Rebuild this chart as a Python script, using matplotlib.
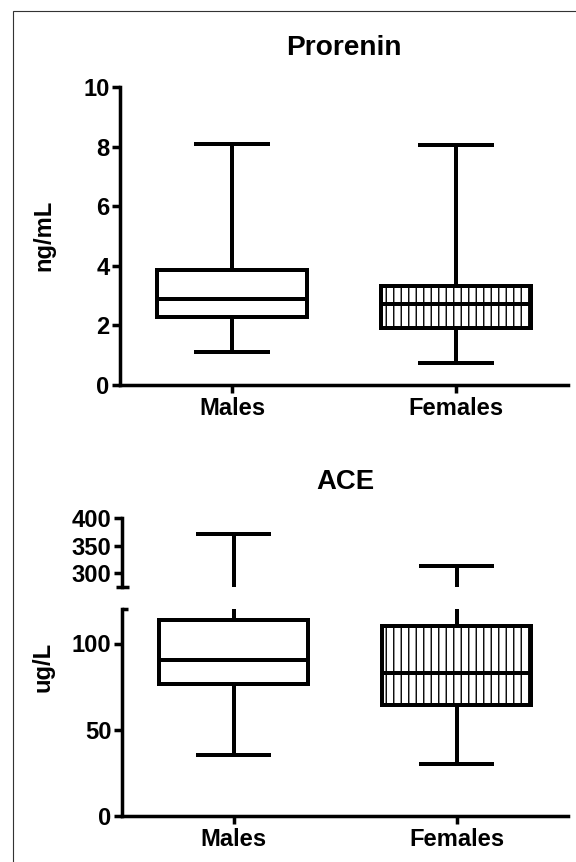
import matplotlib.pyplot as plt
from matplotlib.patches import Rectangle
from matplotlib.ticker import FixedLocator

plt.rcParams['font.family'] = ['Liberation Sans', 'DejaVu Sans']
plt.rcParams['font.weight'] = 'bold'
plt.rcParams['hatch.linewidth'] = 1.1

groups = ['Males', 'Females']
hatches = ['', '||']

# Prorenin (ng/mL): whisker low, Q1, median, Q3, whisker high
prorenin_whislo = [1.12, 0.73]
prorenin_q1 = [2.29, 1.90]
prorenin_med = [2.90, 2.71]
prorenin_q3 = [3.86, 3.32]
prorenin_whishi = [8.09, 8.04]

# ACE (ug/L)
ace_whislo = [35.5, 30.0]
ace_q1 = [76.7, 64.5]
ace_med = [90.7, 83.0]
ace_q3 = [113.5, 110.0]
ace_whishi = [371.0, 313.0]

prorenin_ticks = [0, 2, 4, 6, 8, 10]
ace_low_ticks = [0, 50, 100]
ace_high_ticks = [300, 350, 400]
ace_low_lim = (0, 120)
ace_high_lim = (275, 400)

LW = 3.2      # boxes, whiskers
LW_AX = 2.8   # spines, ticks
FS = 19
W, H = 576, 862


def make_stats(lo, q1, med, q3, hi):
    return [dict(whislo=a, q1=b, med=c, q3=d, whishi=e, fliers=[])
            for a, b, c, d, e in zip(lo, q1, med, q3, hi)]


def draw_boxes(ax, stats):
    res = ax.bxp(stats, positions=[1, 2], widths=0.67, patch_artist=True,
                 showfliers=False, manage_ticks=False,
                 boxprops=dict(facecolor='white', edgecolor='black', linewidth=LW),
                 whiskerprops=dict(color='black', linewidth=LW, solid_capstyle='butt'),
                 capprops=dict(color='black', linewidth=LW, solid_capstyle='butt'),
                 medianprops=dict(color='black', linewidth=LW, solid_capstyle='butt'))
    for box, h in zip(res['boxes'], hatches):
        box.set_hatch(h)
    ax.set_xlim(0.5, 2.5)


def style(ax, bottom=True):
    for s in ['top', 'right']:
        ax.spines[s].set_visible(False)
    ax.spines['left'].set_linewidth(LW_AX)
    ax.spines['bottom'].set_linewidth(LW_AX)
    ax.tick_params(axis='both', which='major', direction='out', length=6.4,
                   width=LW_AX, labelsize=FS, pad=2)
    if bottom:
        ax.set_xticks([1, 2])
        ax.set_xticklabels(groups, fontsize=FS, fontweight='bold')
        ax.tick_params(axis='x', pad=3)
    else:
        ax.spines['bottom'].set_visible(False)
        ax.set_xticks([])


def fx(px):
    return px / W


def fy(py):
    return 1 - py / H


fig = plt.figure(figsize=(W / 90, H / 90), dpi=90)

# Prorenin
ax1 = fig.add_axes([fx(120), fy(385), fx(568 - 120), (385 - 87) / H])
draw_boxes(ax1, make_stats(prorenin_whislo, prorenin_q1, prorenin_med,
                           prorenin_q3, prorenin_whishi))
ax1.set_ylim(0, 10)
ax1.set_yticks(prorenin_ticks)
style(ax1)

# ACE, broken axis
ace_stats = make_stats(ace_whislo, ace_q1, ace_med, ace_q3, ace_whishi)
ax_lo = fig.add_axes([fx(122), fy(816), fx(568 - 122), (816 - 609) / H])
draw_boxes(ax_lo, ace_stats)
ax_lo.set_ylim(*ace_low_lim)
ax_lo.set_yticks(ace_low_ticks)
style(ax_lo)
ax_lo.yaxis.set_minor_locator(FixedLocator([ace_low_lim[1]]))
ax_lo.tick_params(axis='y', which='minor', direction='in', length=5, width=LW_AX)

ax_hi = fig.add_axes([fx(122), fy(587), fx(568 - 122), (587 - 518) / H])
draw_boxes(ax_hi, ace_stats)
ax_hi.set_ylim(*ace_high_lim)
ax_hi.set_yticks(ace_high_ticks)
style(ax_hi, bottom=False)
ax_hi.yaxis.set_minor_locator(FixedLocator([ace_high_lim[0]]))
ax_hi.tick_params(axis='y', which='minor', direction='inout', length=10.4, width=LW_AX)

for a in (ax1, ax_lo, ax_hi):
    for lab in a.get_yticklabels():
        lab.set_fontweight('bold')

fig.text(fx(344), fy(48), 'Prorenin', ha='center', va='center', fontsize=22.5, fontweight='bold')
fig.text(fx(345), fy(482), 'ACE', ha='center', va='center', fontsize=22, fontweight='bold')
fig.text(fx(44), fy(235), 'ng/mL', ha='center', va='center', rotation=90,
         fontsize=FS, fontweight='bold')
fig.text(fx(43.5), fy(667), 'ug/L', ha='center', va='center', rotation=90,
         fontsize=FS, fontweight='bold')

fig.add_artist(Rectangle((fx(13), -0.05), 1.0, fy(11) + 0.05, transform=fig.transFigure,
                         fill=False, edgecolor='#333333', linewidth=0.9))

fig.savefig('out.png', dpi=90)
